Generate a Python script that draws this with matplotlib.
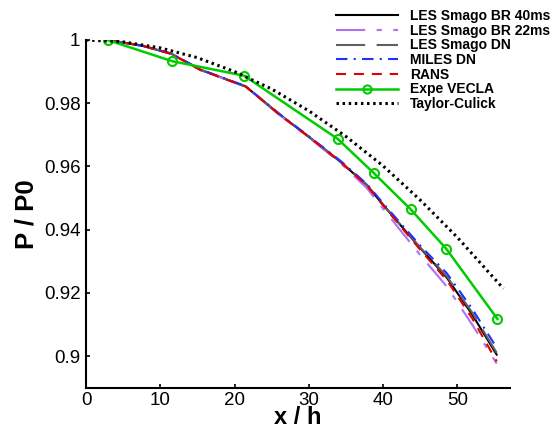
import numpy as np
import matplotlib
matplotlib.use('Agg')
import matplotlib.pyplot as plt
from matplotlib.ticker import FormatStrFormatter

plt.rcParams['font.family'] = ['Liberation Sans', 'DejaVu Sans']

# Données
x_cfd = [3.0, 7.7, 11.5, 15.4, 21.5, 26.1, 30.2, 34.2, 37.8, 40.5, 45.0, 48.6, 52.0, 55.3]
smago_br40 = [1.0, 0.9981, 0.9956, 0.9906, 0.9853, 0.9764, 0.9690, 0.9616, 0.9541, 0.9465, 0.9342, 0.9248, 0.9132, 0.9005]
smago_br22 = [1.0, 0.9981, 0.9956, 0.9905, 0.9852, 0.9762, 0.9688, 0.9612, 0.9532, 0.9452, 0.9320, 0.9220, 0.9100, 0.8977]
smago_dn = [1.0, 0.9981, 0.9957, 0.9906, 0.9853, 0.9764, 0.9691, 0.9617, 0.9543, 0.9466, 0.9344, 0.9252, 0.9138, 0.9011]
miles_dn = [1.0, 0.9981, 0.9957, 0.9907, 0.9854, 0.9765, 0.9692, 0.9619, 0.9545, 0.9470, 0.9350, 0.9262, 0.9150, 0.9027]
rans = [1.0, 0.9981, 0.9956, 0.9905, 0.9853, 0.9763, 0.9690, 0.9616, 0.9540, 0.9463, 0.9337, 0.9240, 0.9120, 0.8984]

x_exp = [2.9, 11.6, 21.3, 33.9, 38.8, 43.7, 48.5, 55.4]
y_exp = [1.0, 0.9933, 0.9887, 0.9687, 0.9578, 0.9465, 0.9340, 0.9118]

x_tc = [0, 5, 10, 15, 20, 25, 30, 35, 40, 45, 50, 56.2]
y_tc = [1.0, 0.9994, 0.9975, 0.9944, 0.9900, 0.9845, 0.9776, 0.9695, 0.9602, 0.9494, 0.9376, 0.9214]

x_ticks = [0, 10, 20, 30, 40, 50]
y_ticks = [0.9, 0.92, 0.94, 0.96, 0.98, 1.0]

fig = plt.figure(figsize=(5.55, 4.3), dpi=100)
ax = fig.add_axes([0.155, 0.098, 0.764, 0.809])

lw = 1.5
ax.plot(x_cfd, smago_br40, color='black', lw=lw, label='LES Smago BR 40ms')
ax.plot(x_cfd, smago_br22, color='#b070f0', lw=lw, ls=(0, (14, 5.5, 2.5, 5.5)), label='LES Smago BR 22ms')
ax.plot(x_cfd, smago_dn, color='#606060', lw=lw, ls=(0, (14, 5.5)), label='LES Smago DN')
ax.plot(x_cfd, miles_dn, color='#2030ff', lw=lw, ls=(0, (5.5, 3, 1, 3)), label='MILES DN')
ax.plot(x_cfd, rans, color='#e00000', lw=lw, ls=(0, (4.8, 3.8)), label='RANS')
ax.plot(x_exp, y_exp, color='#00cc00', lw=1.8, marker='o', ms=6.5, mfc='none',
        mec='#00cc00', mew=1.5, label='Expe VECLA')
ax.plot(x_tc, y_tc, color='black', lw=2.2, ls=(0, (0.8, 1.2)), label='Taylor-Culick')

ax.set_xlim(0, 57.1)
ax.set_ylim(0.89, 1.0)
ax.set_xticks(x_ticks)
ax.set_yticks(y_ticks)
ax.yaxis.set_major_formatter(FormatStrFormatter('%g'))
ax.tick_params(direction='in', length=3, width=1.2, labelsize=13.5, pad=4)
ax.tick_params(axis='x', pad=3)

for side in ['top', 'right']:
    ax.spines[side].set_visible(False)
for side in ['left', 'bottom']:
    ax.spines[side].set_linewidth(1.5)

ax.set_xlabel('x / h', fontsize=17, fontweight='bold', labelpad=-2)
ax.set_ylabel('P / P0', fontsize=18.5, fontweight='bold', labelpad=4)

leg = fig.legend(loc='upper right', bbox_to_anchor=(1.008, 1.0), frameon=False,
                 prop={'size': 10, 'weight': 'bold'}, labelspacing=0.05,
                 handlelength=4.4, handletextpad=0.9, borderaxespad=0.25,
                 markerscale=0.9, numpoints=1)

fig.savefig('out.png', dpi=100)
